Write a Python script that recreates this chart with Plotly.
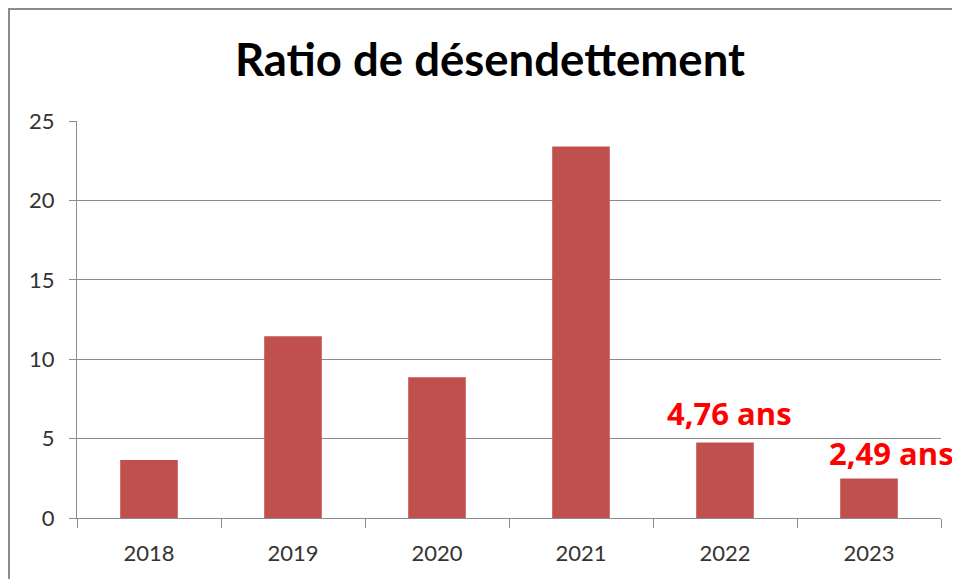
import plotly.graph_objects as go

years = ['2018', '2019', '2020', '2021', '2022', '2023']
ratios = [3.65, 11.45, 8.87, 23.4, 4.76, 2.49]
label_years = ['2022', '2023']
label_values = [4.76, 2.49]
label_texts = ['4,76 ans', '2,49 ans']

fig = go.Figure()
fig.add_trace(go.Bar(
    x=years, y=ratios,
    marker=dict(color='#C0504D', line=dict(width=0)),
    width=0.4,
    hoverinfo='x+y',
))

# numeric-looking categories: annotations need the category index
for yr, val, txt, dx, dy in zip(label_years, label_values, label_texts, [4, 22], [6, 2]):
    fig.add_annotation(
        x=years.index(yr), y=val, text='<b>' + txt + '</b>',
        showarrow=False, xanchor='center', yanchor='bottom',
        xshift=dx, yshift=dy,
        font=dict(family='Open Sans', size=31, color='#FF0000'),
    )

# outer chart frame, cropped at right and bottom
fig.add_shape(type='rect', xref='paper', yref='paper',
              x0=-0.0787, x1=1.1, y0=-0.3, y1=1.282,
              line=dict(color='#8C8C8C', width=2))

fig.update_layout(
    width=960, height=579,
    margin=dict(l=69, r=27, t=113, b=69, autoexpand=False),
    paper_bgcolor='white', plot_bgcolor='white',
    showlegend=False,
    font=dict(family='Lato', color='#333333'),
    title=dict(text='<b>Ratio de désendettement</b>',
               x=0.502, xanchor='center', y=1 - 52 / 579, yanchor='middle',
               font=dict(family='Lato', size=45.5, color='#000000')),
    xaxis=dict(
        type='category', tickson='boundaries', range=[-0.5, 5.5],
        ticks='outside', ticklen=9, tickcolor='#8C8C8C',
        showline=True, linecolor='#8C8C8C', linewidth=1,
        showgrid=False, tickfont=dict(size=22, color='#333333'),
        ticklabelstandoff=16, tickangle=0, automargin=False,
    ),
    yaxis=dict(
        range=[0, 25], dtick=5,
        ticks='outside', ticklen=7, tickcolor='#8C8C8C',
        showline=True, linecolor='#8C8C8C', linewidth=1,
        showgrid=True, gridcolor='#8C8C8C', gridwidth=1,
        zeroline=False, tickfont=dict(size=22, color='#333333'),
        ticklabelstandoff=10, automargin=False,
    ),
)

fig.write_html("out.html")
